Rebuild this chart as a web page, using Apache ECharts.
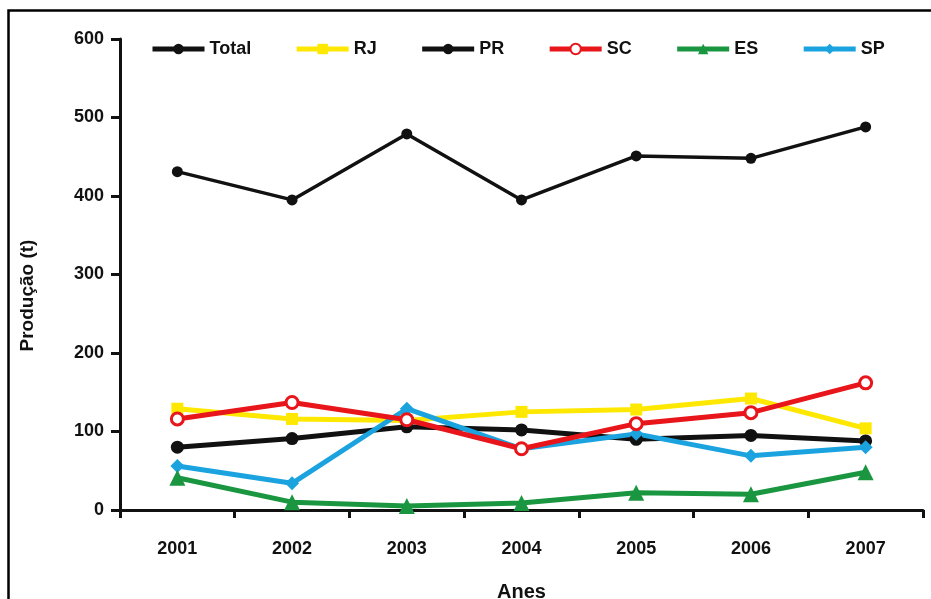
<!DOCTYPE html>
<html>
<head>
<meta charset="utf-8">
<script src="https://cdn.jsdelivr.net/npm/echarts@6/dist/echarts.min.js"></script>
<style>
html,body{margin:0;padding:0;background:#fff;}
#chart{width:931px;height:599px;}
</style>
</head>
<body>
<div id="chart"></div>
<script>
const years = ['2001','2002','2003','2004','2005','2006','2007'];
const yTicks = [0,100,200,300,400,500,600];
const total = [431, 395, 479, 395, 451, 448, 488];
const rj = [129, 116, 114, 125, 128, 142, 104];
const pr = [80, 91, 106, 102, 90, 95, 88];
const sc = [116, 137, 115, 78, 110, 124, 162];
const es = [41, 10, 5, 9, 22, 20, 48];
const sp = [56, 34, 129, 78, 97, 69, 80];

const chart = echarts.init(document.getElementById('chart'));
const font = 'Liberation Sans, Arial, sans-serif';
function mk(name, data, color, symbol, size, width, extra) {
  return Object.assign({
    name: name, type: 'line', data: data, symbol: symbol, symbolSize: size,
    lineStyle: {color: color, width: width},
    itemStyle: {color: color, borderColor: color, borderWidth: 0},
    emphasis: {disabled: true}, animation: false
  }, extra || {});
}
chart.setOption({
  animation: false,
  graphic: [{
    type: 'rect', shape: {x: 8.5, y: 10.5, width: 940, height: 620},
    style: {fill: 'none', stroke: '#000', lineWidth: 2.5}, silent: true
  }],
  legend: {
    top: 35, left: 145, itemWidth: 52, itemHeight: 13, itemGap: 43,
    lineStyle: {width: 5},
    textStyle: {fontFamily: font, fontWeight: 'bold', fontSize: 18, color: '#111'},
    data: ['Total','RJ','PR','SC','ES','SP']
  },
  grid: {left: 120, right: 8, top: 39, bottom: 89, outerBoundsMode: 'none', containLabel: false},
  xAxis: {
    type: 'category', data: years, boundaryGap: true,
    name: 'Anes', nameLocation: 'middle', nameGap: 72,
    nameTextStyle: {fontFamily: font, fontWeight: 'bold', fontSize: 20, color: '#111'},
    axisLine: {lineStyle: {color: '#111', width: 3}},
    axisTick: {show: true, length: 8, lineStyle: {width: 3, color: '#111'}, alignWithLabel: false},
    axisLabel: {fontFamily: font, fontWeight: 'bold', fontSize: 18, color: '#111', margin: 30},
    splitLine: {show: false}
  },
  yAxis: {
    type: 'value', min: yTicks[0], max: yTicks[yTicks.length-1], interval: 100,
    name: 'Produção (t)', nameLocation: 'middle', nameGap: 83, nameRotate: 90,
    nameTextStyle: {fontFamily: font, fontWeight: 'bold', fontSize: 19, color: '#111', padding: [0, 42, 0, 0]},
    axisLine: {show: true, lineStyle: {color: '#111', width: 3}},
    axisTick: {show: true, length: 9, lineStyle: {width: 3, color: '#111'}},
    axisLabel: {fontFamily: font, fontWeight: 'bold', fontSize: 18, color: '#111', margin: 16},
    splitLine: {show: false}
  },
  series: [
    mk('Total', total, '#111111', 'circle', 11, 3.5),
    mk('RJ', rj, '#FFE800', 'rect', 12, 5),
    mk('PR', pr, '#111111', 'circle', 13, 5),
    mk('SP', sp, '#1BA3E0', 'diamond', 14, 5),
    mk('ES', es, '#1A9640', 'triangle', 16, 5),
    mk('SC', sc, '#E8151B', 'circle', 12, 5, {
      itemStyle: {color: '#fff', borderColor: '#E8151B', borderWidth: 3}, z: 5
    })
  ]
});
</script>
</body>
</html>
